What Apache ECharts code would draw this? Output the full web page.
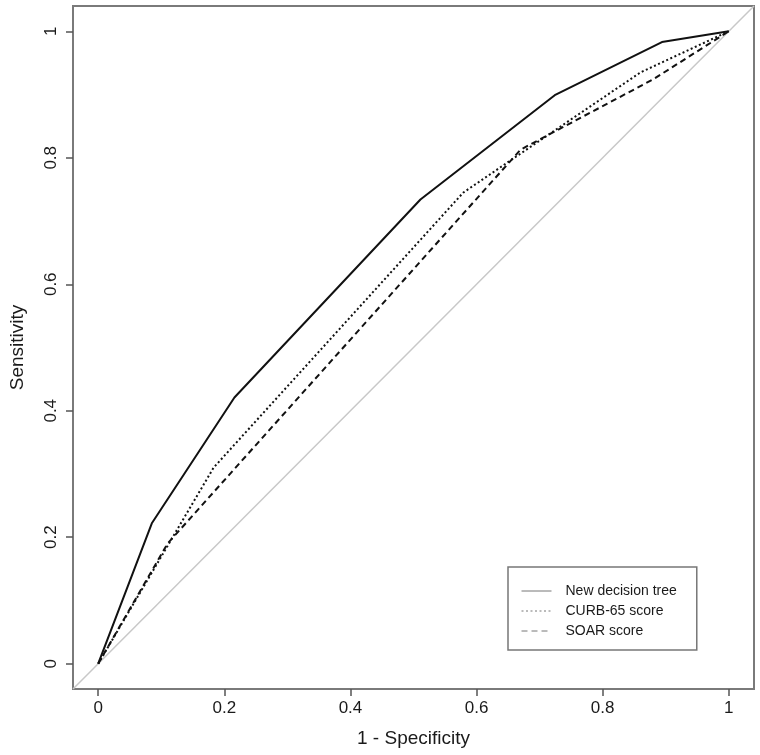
<!DOCTYPE html>
<html>
<head>
<meta charset="utf-8">
<script src="https://cdn.jsdelivr.net/npm/echarts@6/dist/echarts.min.js"></script>
<style>html,body{margin:0;padding:0;background:#fff}#c{width:760px;height:755px}</style>
</head>
<body>
<div id="c"></div>
<script>
const seriesNames = ['New decision tree', 'CURB-65 score', 'SOAR score'];
const tickValues = [0, 0.2, 0.4, 0.6, 0.8, 1];
const tickLabels = ['0', '0.2', '0.4', '0.6', '0.8', '1'];
const treeX = [0, 0.085, 0.216, 0.511, 0.724, 0.894, 1];
const treeY = [0, 0.222, 0.421, 0.734, 0.899, 0.983, 1];
const curbX = [0, 0.183, 0.579, 0.66, 0.86, 1];
const curbY = [0, 0.31, 0.745, 0.80, 0.935, 1];
const soarX = [0, 0.11, 0.67, 0.88, 1];
const soarY = [0, 0.19, 0.813, 0.924, 1];
const diagX = [-0.04, 1.04];
const diagY = [-0.04, 1.04];

const zip = (a, b) => a.map((v, i) => [v, b[i]]);
const fmt = v => { const i = tickValues.findIndex(t => Math.abs(t - v) < 1e-9); return i >= 0 ? tickLabels[i] : ''; };
const font = 'Liberation Sans, Arial, sans-serif';

const chart = echarts.init(document.getElementById('c'), null, {renderer: 'canvas'});
chart.setOption({
  animation: false,
  backgroundColor: '#fff',
  grid: {left: 71, top: 6, width: 683, height: 683, show: true, borderColor: '#7a7a7a', borderWidth: 2, backgroundColor: 'transparent'},
  xAxis: {
    type: 'value', min: -0.04, max: 1.04,
    name: '1 - Specificity', nameLocation: 'middle', nameGap: 40,
    nameTextStyle: {fontFamily: font, fontSize: 19, color: '#1a1a1a'},
    axisLine: {show: false, onZero: false},
    splitLine: {show: false},
    axisTick: {show: true, customValues: tickValues, length: 7, lineStyle: {color: '#555', width: 1.5}},
    axisLabel: {customValues: tickValues, formatter: fmt, fontFamily: font, fontSize: 17, color: '#1a1a1a', margin: 11}
  },
  yAxis: {
    type: 'value', min: -0.04, max: 1.04,
    name: 'Sensitivity', nameLocation: 'middle', nameGap: 46,
    nameTextStyle: {fontFamily: font, fontSize: 19, color: '#1a1a1a'},
    axisLine: {show: false, onZero: false},
    splitLine: {show: false},
    axisTick: {show: true, customValues: tickValues, length: 7, lineStyle: {color: '#555', width: 1.5}},
    axisLabel: {customValues: tickValues, formatter: fmt, rotate: 90, fontFamily: font, fontSize: 17, color: '#1a1a1a', margin: 13}
  },
  legend: {
    data: seriesNames,
    orient: 'vertical',
    left: 508, top: 567,
    padding: [17, 20, 12, 13],
    itemWidth: 30, itemHeight: 8, itemGap: 6,
    borderColor: '#777', borderWidth: 1.5,
    textStyle: {fontFamily: font, fontSize: 14, color: '#1a1a1a', lineHeight: 14, padding: [0, 0, 0, 9]},
    itemStyle: {opacity: 0, borderWidth: 0},
    lineStyle: {width: 1, color: '#777'}
  },
  series: [
    {type: 'line', name: 'diag', data: zip(diagX, diagY), symbol: 'none', silent: true,
     lineStyle: {color: '#c8c8c8', width: 1.5}, z: 1},
    {type: 'line', name: seriesNames[0], data: zip(treeX, treeY), symbol: 'none',
     itemStyle: {color: '#111'}, lineStyle: {color: '#111', width: 2, type: 'solid'}, z: 3},
    {type: 'line', name: seriesNames[1], data: zip(curbX, curbY), symbol: 'none',
     itemStyle: {color: '#111'}, lineStyle: {color: '#111', width: 2, type: [2, 2.5]}, z: 3},
    {type: 'line', name: seriesNames[2], data: zip(soarX, soarY), symbol: 'none',
     itemStyle: {color: '#111'}, lineStyle: {color: '#111', width: 2, type: [6, 4]}, z: 3}
  ]
});
</script>
</body>
</html>
